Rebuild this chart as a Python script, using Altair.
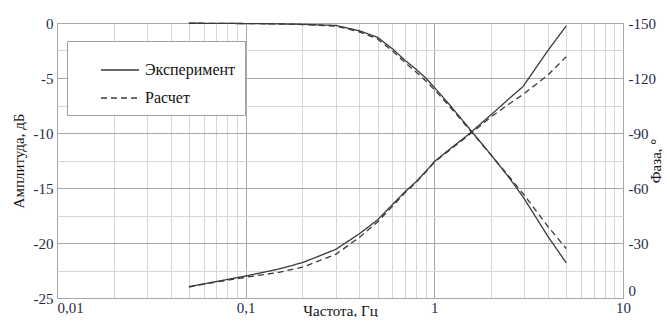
import altair as alt
import pandas as pd

# ---- data ----
freq = [0.05, 0.07, 0.1, 0.15, 0.2, 0.3, 0.4, 0.5, 0.6, 0.7, 0.8, 0.9, 1.0, 1.2, 1.5, 2.0, 2.5, 2.95, 4.0, 5.0]
amp_exp = [-0.02, -0.03, -0.05, -0.08, -0.12, -0.22, -0.7, -1.3, -2.35, -3.4, -4.2, -5.0, -5.85, -7.4, -9.4, -12.0, -14.1, -15.8, -19.4, -21.8]
amp_calc = [-0.02, -0.03, -0.05, -0.09, -0.14, -0.28, -0.8, -1.45, -2.55, -3.6, -4.45, -5.25, -6.05, -7.55, -9.5, -12.0, -14.0, -15.5, -18.5, -20.5]
phase_exp = [-6.2, -9.0, -12.0, -15.8, -19.3, -26.5, -35.0, -42.6, -51.0, -58.0, -63.4, -69.0, -74.4, -81.0, -88.8, -100.0, -108.9, -115.3, -135.0, -148.4]
phase_calc = [-6.0, -8.7, -11.3, -14.0, -16.8, -23.8, -33.0, -41.5, -50.0, -57.5, -63.0, -68.7, -74.0, -80.5, -88.3, -98.8, -106.0, -111.0, -121.6, -131.6]
series_names = ["Эксперимент", "Расчет"]

x_ticks = [0.01, 0.02, 0.03, 0.04, 0.05, 0.06, 0.07, 0.08, 0.09,
           0.1, 0.2, 0.3, 0.4, 0.5, 0.6, 0.7, 0.8, 0.9,
           1, 2, 3, 4, 5, 6, 7, 8, 9, 10]
amp_ticks = [-25, -22.5, -20, -17.5, -15, -12.5, -10, -7.5, -5, -2.5, 0]
phase_ticks = [0, -30, -60, -90, -120, -150]

rows = []
for i, f in enumerate(freq):
    rows.append({"f": f, "amp": amp_exp[i], "phase": phase_exp[i], "series": series_names[0]})
    rows.append({"f": f, "amp": amp_calc[i], "phase": phase_calc[i], "series": series_names[1]})
df = pd.DataFrame(rows)

FONT = "'Liberation Serif', 'Times New Roman', Tinos, 'Nimbus Roman', FreeSerif, 'Noto Serif', 'DejaVu Serif', serif"
LABEL_C = "#1f2b47"
LINE_C = "#3a3a3a"
decade = "abs(log(datum.value)/LN10 - round(log(datum.value)/LN10)) < 0.000001"
signed = "datum.value == 0 ? '0' : (datum.value < 0 ? '-' : '') + abs(datum.value)"

x_axis = alt.Axis(
    values=x_ticks,
    labelExpr=f"({decade}) ? replace('' + datum.value, '.', ',') : ''",
    labelAlign={"condition": {"test": "datum.value < 0.015", "value": "left"}, "value": "center"},
    labelFont=FONT, labelFontSize=15, labelColor=LABEL_C, labelPadding=2,
    labelBaseline="top", ticks=False, domain=False,
    grid=True,
    gridColor={"condition": {"test": decade, "value": "#a8a8a8"}, "value": "#d6d6d6"},
    gridWidth=1,
    title="Частота, Гц", titleFont=FONT, titleFontSize=15, titleFontWeight="normal",
    titleColor="#111111", titleBaseline="top", titleY=5,
)

base = alt.Chart(df).encode(
    x=alt.X("f:Q", scale=alt.Scale(type="log", domain=[0.01, 10]), axis=x_axis),
    strokeDash=alt.StrokeDash(
        "series:N",
        scale=alt.Scale(domain=series_names, range=[[1, 0], [6, 4]]),
        legend=alt.Legend(
            title=None, orient="none", legendX=10, legendY=18,
            fillColor="white", strokeColor="#a0a0a0", padding=9,
            symbolType="stroke", symbolSize=1444, symbolStrokeColor=LINE_C,
            symbolStrokeWidth=1.3, symbolOffset=24, labelOffset=5,
            labelFont=FONT, labelFontSize=16, labelColor="#111111",
            rowPadding=0,
        ),
    ),
)

amp = base.mark_line(color=LINE_C, strokeWidth=1.3).encode(
    y=alt.Y(
        "amp:Q",
        scale=alt.Scale(domain=[-25, 0]),
        axis=alt.Axis(
            values=amp_ticks,
            labelExpr=f"datum.value % 5 == 0 ? ({signed}) : ''",
            labelFont=FONT, labelFontSize=15, labelColor=LABEL_C, labelPadding=4,
            ticks=False, domain=False, grid=True,
            gridColor={"condition": {"test": "datum.value % 5 == 0", "value": "#a8a8a8"}, "value": "#d6d6d6"},
            title="Амплитуда, дБ", titleFont=FONT, titleFontSize=15, titleFontWeight="normal",
            titleColor="#111111", titleAngle=270, titleAlign="center", titleBaseline="middle",
            titleX=-39, titleY=137.5,
        ),
    )
)

ph = base.mark_line(color=LINE_C, strokeWidth=1.3).encode(
    y=alt.Y(
        "phase:Q",
        scale=alt.Scale(domain=[-150, 0], reverse=True),
        axis=alt.Axis(
            orient="right", values=phase_ticks,
            labelExpr=signed,
            labelBaseline={"condition": {"test": "datum.value == 0", "value": "bottom"}, "value": "middle"},
            labelFont=FONT, labelFontSize=15, labelColor=LABEL_C, labelPadding=5,
            ticks=False, domain=False, grid=False,
            title="Фаза, °", titleFont=FONT, titleFontSize=15, titleFontWeight="normal",
            titleColor="#111111", titleAngle=270, titleAlign="center", titleBaseline="middle",
            titleX=32, titleY=137.5,
        ),
    )
)

chart = (
    alt.layer(amp, ph)
    .resolve_scale(y="independent")
    .properties(
        width=566, height=275,
        autosize=alt.AutoSizeParams(type="none"),
        padding={"left": 49, "top": 15, "right": 39, "bottom": 19},
        background="white",
    )
    .configure_view(stroke="#9a9a9a", strokeWidth=1)
)

chart.save("out.html", embed_options={"renderer": "svg", "actions": False})
